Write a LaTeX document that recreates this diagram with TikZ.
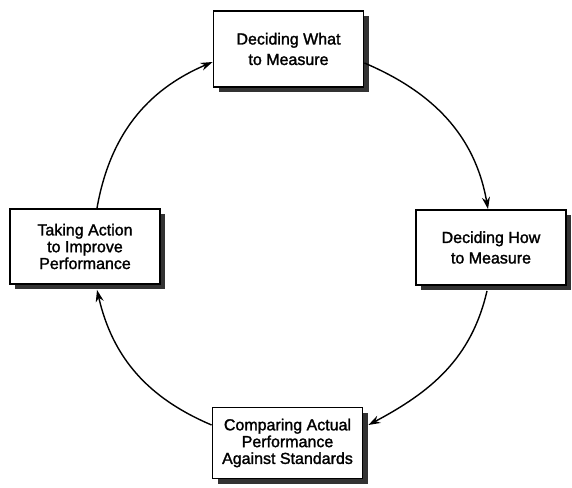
\documentclass[tikz,border=0pt]{standalone}
\usepackage{fontspec}
\setmainfont{Liberation Sans}
\newfontfamily\stagefont{Liberation Sans}[FakeBold=1.6]
\usetikzlibrary{arrows.meta,shadows}
\begin{document}
\begin{tikzpicture}[x=1pt,y=1pt,
  stage/.style={draw=black, line width=1.8pt, fill=white, align=center, inner sep=0pt,
    minimum width=150pt,
    drop shadow={shadow xshift=5pt, shadow yshift=-5pt, fill=black!80, opacity=1}},
  twoline/.style={font=\stagefont\fontsize{16}{20.5}\selectfont},
  threeline/.style={font=\stagefont\fontsize{16}{16.8}\selectfont},
  cycle/.style={line width=1.4pt, -{Stealth[length=12pt,width=8pt]}}]
\path[use as bounding box] (0,0) rectangle (572,487);

% the four stages of the control cycle
\node[stage, twoline, minimum height=76pt] (what) at (288.5,438) {Deciding What\\to Measure};
\node[stage, twoline, minimum height=75pt] (how) at (491,239.5) {Deciding How\\to Measure};
\node[stage, threeline, minimum height=71pt] (cmp) at (287.5,44) {Comparing Actual\\Performance\\Against Standards};
\node[stage, threeline, minimum height=75pt] (act) at (85,240.5) {Taking Action\\to Improve\\Performance};

% clockwise arrows around the cycle
\draw[cycle] ([yshift=-14pt]what.east) to[out=-23, in=100] ([xshift=-3pt]how.north);
\draw[cycle] ([xshift=-4pt,yshift=-5pt]how.south) to[out=-103, in=28] ([xshift=5pt,yshift=18pt]cmp.east);
\draw[cycle] ([yshift=18pt]cmp.west) to[out=157, in=-77] ([xshift=12pt,yshift=-5pt]act.south);
\draw[cycle] ([xshift=12pt]act.north) to[out=80, in=203] ([yshift=-13pt]what.west);
\end{tikzpicture}
\end{document}
